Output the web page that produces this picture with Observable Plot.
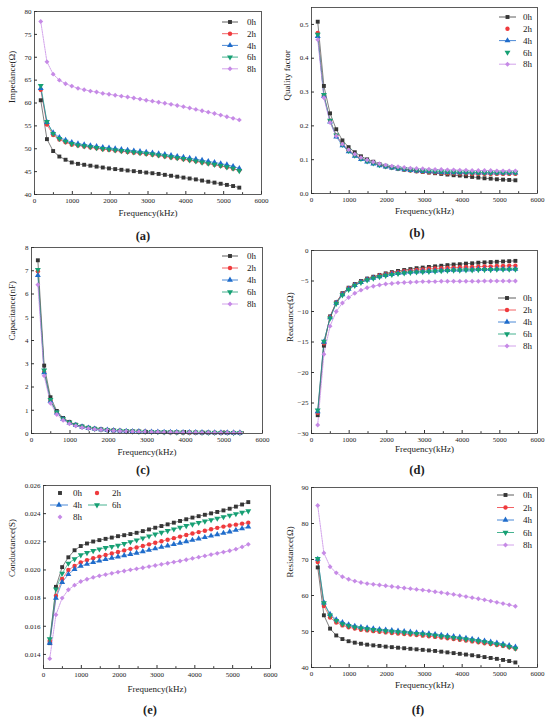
<!DOCTYPE html>
<html><head><meta charset="utf-8">
<script src="https://cdn.jsdelivr.net/npm/d3@7"></script>
<script src="https://cdn.jsdelivr.net/npm/@observablehq/plot@0.6"></script>
<style>
body{margin:0;background:#fff;}
#fig{position:relative;width:550px;height:721px;overflow:hidden;background:#fff;font-family:"Liberation Serif","Times New Roman",serif;color:#222;}
.panel{position:absolute;width:275px;overflow:visible;}
.panel svg{display:block;}
.cap{position:absolute;font-weight:bold;font-size:12.5px;transform:translate(-50%,-50%);white-space:nowrap;}
#legend{position:absolute;left:0;top:0;pointer-events:none;}
</style></head><body><div id="fig"></div>
<script>
const freq = [165, 329, 493, 657, 821, 985, 1149, 1313, 1477, 1641, 1805,
  1969, 2133, 2297, 2461, 2625, 2789, 2953, 3117, 3281, 3445, 3609,
  3773, 3937, 4101, 4265, 4429, 4593, 4757, 4921, 5085, 5249, 5413];
const seriesNames = ["0h", "2h", "4h", "6h", "8h"];
const seriesColors = ["#363636", "#ef3a3d", "#1f6ccb", "#17a074", "#c68ae6"];
const seriesSymbols = ["square", "circle", "triangle", "triangle", "diamond2"];
const xTicks = [0, 1000, 2000, 3000, 4000, 5000, 6000];
const xMinorTicks = [500, 1500, 2500, 3500, 4500, 5500];

// (a) Impedance (Ω)
const impedance0h = [60.6, 52.1, 49.5, 48.3, 47.6, 47.0, 46.7, 46.5, 46.3, 46.1, 45.9, 45.7, 45.55, 45.4, 45.25, 45.1, 44.95, 44.8, 44.65, 44.5, 44.3, 44.1, 43.9, 43.7, 43.5, 43.3, 43.05, 42.8, 42.6, 42.35, 42.1, 41.85, 41.5];
const impedance2h = [62.9, 55.3, 53.0, 52.0, 51.4, 50.9, 50.7, 50.5, 50.3, 50.1, 49.9, 49.75, 49.6, 49.45, 49.3, 49.15, 49.0, 48.85, 48.7, 48.5, 48.3, 48.1, 47.9, 47.7, 47.5, 47.25, 47.0, 46.75, 46.5, 46.25, 45.95, 45.65, 45.3];
const impedance4h = [63.2, 55.8, 53.5, 52.5, 51.9, 51.4, 51.1, 50.9, 50.7, 50.5, 50.3, 50.2, 50.0, 49.85, 49.7, 49.55, 49.4, 49.25, 49.1, 48.9, 48.75, 48.55, 48.35, 48.15, 47.95, 47.7, 47.5, 47.25, 47.0, 46.75, 46.5, 46.15, 45.7];
const impedance6h = [63.8, 55.9, 53.3, 52.2, 51.6, 51.1, 50.8, 50.6, 50.4, 50.2, 50.0, 49.85, 49.7, 49.55, 49.4, 49.25, 49.1, 48.95, 48.8, 48.6, 48.4, 48.2, 48.0, 47.8, 47.55, 47.3, 47.05, 46.8, 46.55, 46.3, 46.0, 45.7, 45.2];
const impedance8h = [77.8, 69.0, 66.3, 65.0, 64.2, 63.7, 63.2, 62.9, 62.6, 62.4, 62.1, 61.9, 61.7, 61.5, 61.3, 61.1, 60.85, 60.6, 60.4, 60.15, 59.95, 59.7, 59.45, 59.2, 58.9, 58.6, 58.3, 58.0, 57.7, 57.35, 57.0, 56.65, 56.3];
const impedanceTicks = [40, 45, 50, 55, 60, 65, 70, 75, 80];

// (b) Quality factor
const quality0h = [0.508, 0.318, 0.237, 0.190, 0.157, 0.137, 0.122, 0.110, 0.101, 0.094, 0.087, 0.082, 0.078, 0.074, 0.071, 0.069, 0.066, 0.064, 0.062, 0.060, 0.058, 0.056, 0.054, 0.053, 0.051, 0.049, 0.047, 0.045, 0.044, 0.042, 0.041, 0.040, 0.039];
const quality2h = [0.475, 0.290, 0.215, 0.172, 0.146, 0.128, 0.114, 0.104, 0.096, 0.090, 0.084, 0.080, 0.076, 0.073, 0.070, 0.068, 0.066, 0.064, 0.063, 0.062, 0.061, 0.060, 0.060, 0.059, 0.059, 0.058, 0.058, 0.058, 0.058, 0.058, 0.058, 0.058, 0.058];
const quality4h = [0.465, 0.288, 0.212, 0.168, 0.142, 0.124, 0.111, 0.101, 0.094, 0.088, 0.083, 0.079, 0.076, 0.073, 0.071, 0.069, 0.067, 0.066, 0.065, 0.064, 0.063, 0.063, 0.062, 0.062, 0.062, 0.062, 0.061, 0.061, 0.061, 0.061, 0.061, 0.061, 0.061];
const quality6h = [0.470, 0.292, 0.216, 0.172, 0.145, 0.127, 0.113, 0.103, 0.096, 0.090, 0.085, 0.081, 0.078, 0.075, 0.073, 0.071, 0.069, 0.068, 0.067, 0.066, 0.065, 0.064, 0.064, 0.063, 0.063, 0.062, 0.062, 0.062, 0.062, 0.062, 0.062, 0.062, 0.062];
const quality8h = [0.455, 0.283, 0.210, 0.170, 0.146, 0.129, 0.116, 0.106, 0.099, 0.093, 0.088, 0.084, 0.081, 0.079, 0.077, 0.075, 0.074, 0.073, 0.072, 0.071, 0.071, 0.070, 0.070, 0.069, 0.069, 0.068, 0.068, 0.068, 0.068, 0.067, 0.067, 0.067, 0.067];
const qualityTicks = [0, 0.1, 0.2, 0.3, 0.4, 0.5];

// (c) Capacitance (nF)
const capacitance0h = [7.45, 2.92, 1.56, 0.97, 0.67, 0.50, 0.38, 0.30, 0.25, 0.21, 0.18, 0.155, 0.135, 0.12, 0.105, 0.095, 0.085, 0.077, 0.07, 0.064, 0.059, 0.054, 0.05, 0.046, 0.043, 0.04, 0.037, 0.035, 0.033, 0.031, 0.029, 0.027, 0.026];
const capacitance2h = [6.98, 2.65, 1.42, 0.90, 0.62, 0.46, 0.36, 0.29, 0.24, 0.20, 0.17, 0.148, 0.13, 0.115, 0.102, 0.092, 0.083, 0.076, 0.069, 0.064, 0.059, 0.055, 0.051, 0.048, 0.045, 0.042, 0.04, 0.038, 0.036, 0.034, 0.032, 0.031, 0.03];
const capacitance4h = [6.8, 2.62, 1.40, 0.89, 0.62, 0.46, 0.36, 0.29, 0.24, 0.2, 0.17, 0.15, 0.13, 0.116, 0.104, 0.094, 0.085, 0.078, 0.072, 0.066, 0.061, 0.057, 0.053, 0.05, 0.047, 0.044, 0.042, 0.04, 0.038, 0.036, 0.034, 0.033, 0.031];
const capacitance6h = [7.05, 2.72, 1.45, 0.92, 0.63, 0.47, 0.37, 0.30, 0.245, 0.205, 0.175, 0.152, 0.133, 0.118, 0.106, 0.095, 0.086, 0.079, 0.072, 0.067, 0.062, 0.058, 0.054, 0.05, 0.047, 0.045, 0.042, 0.04, 0.038, 0.036, 0.035, 0.033, 0.032];
const capacitance8h = [6.4, 2.48, 1.30, 0.82, 0.57, 0.42, 0.33, 0.26, 0.22, 0.185, 0.16, 0.14, 0.122, 0.108, 0.097, 0.088, 0.08, 0.073, 0.067, 0.062, 0.058, 0.054, 0.05, 0.047, 0.044, 0.042, 0.04, 0.038, 0.036, 0.034, 0.033, 0.031, 0.03];
const capacitanceTicks = [0, 1, 2, 3, 4, 5, 6, 7, 8];

// (d) Reactance (Ω)
const reactance0h = [-27.0, -15.6, -10.8, -8.5, -7.0, -6.1, -5.5, -5.0, -4.6, -4.3, -4.0, -3.75, -3.55, -3.35, -3.2, -3.05, -2.9, -2.8, -2.7, -2.6, -2.5, -2.4, -2.3, -2.25, -2.15, -2.1, -2.0, -1.95, -1.9, -1.85, -1.8, -1.75, -1.7];
const reactance2h = [-26.6, -15.2, -10.9, -8.5, -7.1, -6.2, -5.6, -5.1, -4.7, -4.4, -4.1, -3.9, -3.7, -3.55, -3.4, -3.3, -3.2, -3.1, -3.0, -2.95, -2.9, -2.85, -2.8, -2.75, -2.7, -2.7, -2.65, -2.6, -2.6, -2.55, -2.55, -2.5, -2.5];
const reactance4h = [-26.4, -15.0, -11.0, -8.6, -7.2, -6.3, -5.7, -5.2, -4.8, -4.5, -4.25, -4.05, -3.9, -3.75, -3.65, -3.55, -3.5, -3.45, -3.4, -3.35, -3.3, -3.25, -3.2, -3.2, -3.15, -3.15, -3.1, -3.1, -3.1, -3.05, -3.05, -3.05, -3.05];
const reactance6h = [-26.2, -14.9, -11.1, -8.7, -7.3, -6.4, -5.75, -5.25, -4.85, -4.55, -4.3, -4.1, -3.95, -3.8, -3.7, -3.6, -3.55, -3.5, -3.45, -3.4, -3.35, -3.3, -3.25, -3.25, -3.2, -3.2, -3.15, -3.15, -3.15, -3.1, -3.1, -3.1, -3.1];
const reactance8h = [-28.6, -17.0, -12.4, -10.0, -8.6, -7.7, -7.0, -6.5, -6.1, -5.85, -5.65, -5.5, -5.4, -5.3, -5.25, -5.2, -5.15, -5.1, -5.1, -5.1, -5.05, -5.05, -5.05, -5.05, -5.05, -5.05, -5.05, -5.0, -5.0, -5.0, -5.0, -5.0, -5.0];
const reactanceTicks = [-30, -25, -20, -15, -10, -5, 0];

// (e) Conductance (S)
const conductance0h = [0.0148, 0.0188, 0.0202, 0.0209, 0.0214, 0.0217, 0.02188, 0.02202, 0.02212, 0.02221, 0.0223, 0.0224, 0.02247, 0.02255, 0.02264, 0.02276, 0.02288, 0.023, 0.02312, 0.02324, 0.02336, 0.02348, 0.0236, 0.02372, 0.02382, 0.02392, 0.02402, 0.02412, 0.02423, 0.02435, 0.0245, 0.02465, 0.02482];
const conductance2h = [0.01498, 0.01816, 0.01936, 0.02000, 0.02028, 0.02054, 0.02070, 0.02083, 0.02095, 0.02106, 0.02117, 0.02128, 0.02139, 0.02150, 0.02160, 0.02171, 0.02182, 0.02193, 0.02204, 0.02215, 0.02226, 0.02237, 0.02248, 0.02259, 0.02269, 0.02279, 0.02289, 0.02299, 0.02308, 0.02316, 0.02322, 0.02329, 0.02336];
const conductance4h = [0.01481, 0.01800, 0.01913, 0.01969, 0.02005, 0.02028, 0.02042, 0.02054, 0.02065, 0.02075, 0.02085, 0.02094, 0.02103, 0.02112, 0.02121, 0.02131, 0.02141, 0.02152, 0.02162, 0.02172, 0.02182, 0.02192, 0.02202, 0.02212, 0.02222, 0.02232, 0.02242, 0.02252, 0.02262, 0.02272, 0.02283, 0.02294, 0.02306];
const conductance6h = [0.01509, 0.01864, 0.01976, 0.02047, 0.02078, 0.02106, 0.02122, 0.02136, 0.02148, 0.02158, 0.02166, 0.02174, 0.02186, 0.02199, 0.02212, 0.02226, 0.0224, 0.02254, 0.02266, 0.02278, 0.0229, 0.02302, 0.02314, 0.02325, 0.02336, 0.02346, 0.02356, 0.02366, 0.02377, 0.02388, 0.02398, 0.02408, 0.02419];
const conductance8h = [0.0137, 0.01682, 0.018, 0.01859, 0.01892, 0.01918, 0.01934, 0.01947, 0.01958, 0.01967, 0.01976, 0.01985, 0.01993, 0.02001, 0.02008, 0.02016, 0.02024, 0.02032, 0.0204, 0.02048, 0.02056, 0.02064, 0.02073, 0.02082, 0.02091, 0.021, 0.02109, 0.02118, 0.02127, 0.02136, 0.02148, 0.02164, 0.02182];
const conductanceTicks = [0.014, 0.016, 0.018, 0.020, 0.022, 0.024, 0.026];

// (f) Resistance (Ω)
const resistance0h = [67.8, 54.5, 50.8, 48.9, 47.9, 47.3, 46.9, 46.6, 46.35, 46.15, 46.0, 45.8, 45.65, 45.5, 45.35, 45.2, 45.05, 44.9, 44.75, 44.6, 44.4, 44.2, 44.0, 43.8, 43.6, 43.4, 43.15, 42.9, 42.65, 42.4, 42.1, 41.8, 41.4];
const resistance2h = [69.3, 57.1, 53.9, 52.5, 51.7, 51.2, 50.8, 50.5, 50.3, 50.1, 49.9, 49.75, 49.6, 49.45, 49.3, 49.15, 49.0, 48.85, 48.7, 48.5, 48.3, 48.1, 47.9, 47.7, 47.5, 47.25, 47.0, 46.75, 46.5, 46.25, 46.0, 45.6, 45.2];
const resistance4h = [70.1, 58.0, 54.8, 53.3, 52.5, 51.9, 51.5, 51.2, 51.0, 50.8, 50.6, 50.45, 50.3, 50.15, 50.0, 49.85, 49.7, 49.55, 49.4, 49.2, 49.0, 48.8, 48.6, 48.4, 48.15, 47.9, 47.65, 47.4, 47.1, 46.8, 46.5, 46.1, 45.7];
const resistance6h = [70.2, 57.9, 54.5, 53.0, 52.1, 51.6, 51.2, 50.9, 50.7, 50.5, 50.3, 50.15, 50.0, 49.85, 49.7, 49.55, 49.4, 49.25, 49.1, 48.9, 48.7, 48.5, 48.3, 48.1, 47.85, 47.6, 47.35, 47.1, 46.8, 46.5, 46.2, 45.8, 45.3];
const resistance8h = [85.0, 71.8, 68.0, 66.3, 65.2, 64.5, 64.0, 63.6, 63.3, 63.1, 62.9, 62.7, 62.5, 62.3, 62.1, 61.9, 61.7, 61.5, 61.3, 61.05, 60.8, 60.55, 60.3, 60.0, 59.7, 59.4, 59.1, 58.8, 58.45, 58.1, 57.75, 57.4, 57.0];
const resistanceTicks = [40, 50, 60, 70, 80, 90];

const xLabel = "Frequency(kHz)";

const panels = [
  {cap: "(a)", left: 0, top: 0, h: 225, mL: 34, mR: 14, mT: 11, mB: 31, yDomain: [40, 80], yTicks: impedanceTicks, fmt: d3.format("d"),
   ylabel: "Impedance(Ω)", ylDx: -22, xlDy: 21, capX: 143, capY: 236,
   series: [impedance0h, impedance2h, impedance4h, impedance6h, impedance8h],
   legend: {x0: 222, x1: 238, tx: 247, ys: [22, 33.7, 45.4, 57.1, 68.8], lines: [1, 1, 1, 1, 1]}},
  {cap: "(b)", left: 275, top: 0, h: 225, mL: 36, mR: 13, mT: 7, mB: 32, yDomain: [0, 0.55], yTicks: qualityTicks, fmt: d3.format(".1f"),
   ylabel: "Quality factor", ylDx: -24, xlDy: 20, capX: 417, capY: 233,
   series: [quality0h, quality2h, quality4h, quality6h, quality8h],
   legend: {x0: 499, x1: 516, tx: 523, ys: [17, 28.8, 40.6, 52.4, 64.2], lines: [1, 0, 1, 0, 1]}},
  {cap: "(c)", left: 0, top: 240, h: 225, mL: 31, mR: 13, mT: 7, mB: 32, yDomain: [0, 8], yTicks: capacitanceTicks, fmt: d3.format("d"),
   ylabel: "Capacitance(nF)", ylDx: -19, xlDy: 21, capX: 143, capY: 470,
   series: [capacitance0h, capacitance2h, capacitance4h, capacitance6h, capacitance8h],
   legend: {x0: 222, x1: 238, tx: 247, ys: [256, 268, 280, 292, 304], lines: [1, 1, 1, 1, 1]}},
  {cap: "(d)", left: 275, top: 240, h: 225, mL: 36, mR: 13, mT: 10, mB: 32, yDomain: [-30, 0], yTicks: reactanceTicks, fmt: d3.format("d"),
   ylabel: "Reactance(Ω)", ylDx: -21, xlDy: 18, capX: 417, capY: 470,
   series: [reactance0h, reactance2h, reactance4h, reactance6h, reactance8h],
   legend: {x0: 498, x1: 516, tx: 523, ys: [298, 310, 322, 334, 346], lines: [1, 1, 1, 1, 1]}},
  {cap: "(e)", left: 0, top: 480, h: 241, mL: 43, mR: 5, mT: 5, mB: 53, yDomain: [0.013, 0.026], yTicks: conductanceTicks, fmt: d3.format(".3f"),
   ylabel: "Conductance(S)", ylDx: -31, xlDy: 23, capX: 150, capY: 710,
   series: [conductance0h, conductance2h, conductance4h, conductance6h, conductance8h],
   legend: null},
  {cap: "(f)", left: 275, top: 480, h: 241, mL: 36, mR: 13, mT: 7, mB: 54, yDomain: [40, 90], yTicks: resistanceTicks, fmt: d3.format("d"),
   ylabel: "Resistance(Ω)", ylDx: -21, xlDy: 20, capX: 418, capY: 710,
   series: [resistance0h, resistance2h, resistance4h, resistance6h, resistance8h],
   legend: {x0: 497, x1: 514, tx: 523, ys: [495, 507.5, 520, 532.5, 545], lines: [1, 1, 1, 1, 1]}}
];

// legend of panel (e): two columns
const legendE = [
  {s: 0, sx: 60, tx: 73, y: 493, line: null},
  {s: 1, sx: 97, tx: 112, y: 493, line: null},
  {s: 2, sx: 59, tx: 73, y: 505, line: [50, 68]},
  {s: 3, sx: 97, tx: 112, y: 505, line: [88, 107]},
  {s: 4, sx: 60, tx: 73, y: 517, line: null}
];

const R = 2.2;
const fig = document.getElementById("fig");

panels.forEach(p => {
  const rows = [];
  p.series.forEach((vals, s) => freq.forEach((f, i) => rows.push({f, v: vals[i], key: seriesNames[s]})));
  const chart = Plot.plot({
    width: 275, height: p.h,
    marginLeft: p.mL, marginRight: p.mR, marginTop: p.mT, marginBottom: p.mB,
    style: {fontFamily: "'Liberation Serif','Times New Roman',serif", fontSize: "7px", color: "#222", background: "transparent", overflow: "visible"},
    x: {domain: [0, 6000]},
    y: {domain: p.yDomain},
    color: {domain: seriesNames, range: seriesColors},
    symbol: {domain: seriesNames, range: seriesSymbols},
    marks: [
      Plot.line(rows.filter(d => d.key !== "8h"), {x: "f", y: "v", z: "key", stroke: "key", strokeWidth: 0.7, strokeOpacity: 0.9}),
      Plot.line(rows.filter(d => d.key === "8h"), {x: "f", y: "v", stroke: "key", strokeWidth: 0.8, strokeDasharray: "1.5,1"}),
      Plot.dot(rows, {x: "f", y: "v", symbol: "key", fill: "key", stroke: "none", r: R, rotate: d => d.key === "6h" ? 180 : 0}),
      Plot.frame({stroke: "#333", strokeWidth: 0.8}),
      Plot.axisX(xTicks, {tickSize: -3, tickPadding: 7, tickFormat: d3.format("d"), label: null, stroke: "#333"}),
      Plot.axisX(xMinorTicks, {tickSize: -1.8, tickFormat: () => "", label: null, stroke: "#333"}),
      Plot.axisY(p.yTicks, {tickSize: -3, tickPadding: 6, tickFormat: p.fmt, label: null, stroke: "#333"}),
      Plot.text([p.ylabel], {frameAnchor: "left", dx: p.ylDx, rotate: -90, fontSize: 9, fill: "#222"}),
      Plot.text([xLabel], {frameAnchor: "bottom", dy: p.xlDy, fontSize: 9, fill: "#222"})
    ]
  });
  const div = document.createElement("div");
  div.className = "panel";
  div.style.left = p.left + "px";
  div.style.top = p.top + "px";
  div.style.height = p.h + "px";
  div.appendChild(chart);
  fig.appendChild(div);
  const cap = document.createElement("div");
  cap.className = "cap";
  cap.textContent = p.cap;
  cap.style.left = p.capX + "px";
  cap.style.top = p.capY + "px";
  fig.appendChild(cap);
});

// legends
const symbolType = {square: d3.symbolSquare, circle: d3.symbolCircle, triangle: d3.symbolTriangle, diamond2: d3.symbolDiamond2};
const lsvg = d3.select(fig).append("svg").attr("id", "legend").attr("width", 550).attr("height", 721)
  .style("font-family", "'Liberation Serif','Times New Roman',serif").style("font-size", "9px");

function legendItem(s, sx, tx, y, line) {
  const g = lsvg.append("g");
  if (line) g.append("line").attr("x1", line[0]).attr("x2", line[1]).attr("y1", y).attr("y2", y)
    .attr("stroke", seriesColors[s]).attr("stroke-width", 0.8);
  g.append("path").attr("d", d3.symbol(symbolType[seriesSymbols[s]], R * R * Math.PI)())
    .attr("transform", `translate(${sx},${y}) rotate(${s === 3 ? 180 : 0})`).attr("fill", seriesColors[s]);
  g.append("text").attr("x", tx).attr("y", y).attr("dy", "0.35em").attr("fill", "#222").text(seriesNames[s]);
}

panels.forEach(p => {
  if (!p.legend) return;
  const L = p.legend;
  seriesNames.forEach((n, s) => legendItem(s, (L.x0 + L.x1) / 2, L.tx, L.ys[s], L.lines[s] ? [L.x0, L.x1] : null));
});
legendE.forEach(e => legendItem(e.s, e.sx, e.tx, e.y, e.line));
</script></body></html>
